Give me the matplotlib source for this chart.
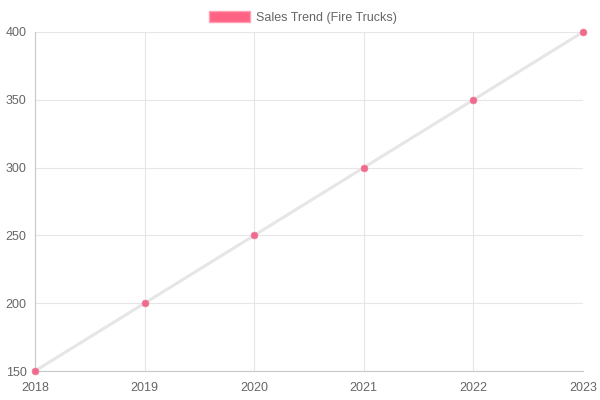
import matplotlib
matplotlib.use("Agg")
import matplotlib.pyplot as plt
from matplotlib.patches import Patch

years = [2018, 2019, 2020, 2021, 2022, 2023]
sales = [150, 200, 250, 300, 350, 400]
y_ticks = [150, 200, 250, 300, 350, 400]
label = "Sales Trend (Fire Trucks)"

plt.rcParams['font.family'] = ['Liberation Sans', 'DejaVu Sans']

fig = plt.figure(figsize=(6, 4), dpi=100)
ax = fig.add_axes([35/600, 29/400, 548/600, 339/400])

ax.plot(years, sales, color='#e6e6e6', linewidth=2.2, zorder=2, solid_capstyle='round')
ax.scatter(years, sales, s=24, color='#ee6a8e', edgecolors='#f47a98', linewidths=0.5, zorder=3, clip_on=False)

ax.set_xlim(years[0], years[-1])
ax.set_ylim(y_ticks[0], y_ticks[-1])
ax.set_xticks(years)
ax.set_yticks(y_ticks)
ax.grid(True, color='#e6e6e6', linewidth=0.8)
ax.set_axisbelow(True)
for s in ['top', 'right']:
    ax.spines[s].set_visible(False)
for s in ['left', 'bottom']:
    ax.spines[s].set_color('#c8c8c8')
    ax.spines[s].set_linewidth(0.8)
ax.tick_params(axis='both', length=0, labelsize=9, labelcolor='#666666', pad=6)
ax.tick_params(axis='x', pad=8)

handle = Patch(facecolor='#ff6384', edgecolor='#ff9fb4', linewidth=1)
fig.legend([handle], [label], loc='upper center', bbox_to_anchor=(0.505, 0.995),
           frameon=False, fontsize=9, labelcolor='#666666',
           handlelength=3.3, handleheight=1.0, handletextpad=0.5, borderaxespad=0.3)

fig.savefig("out.png", dpi=100)
